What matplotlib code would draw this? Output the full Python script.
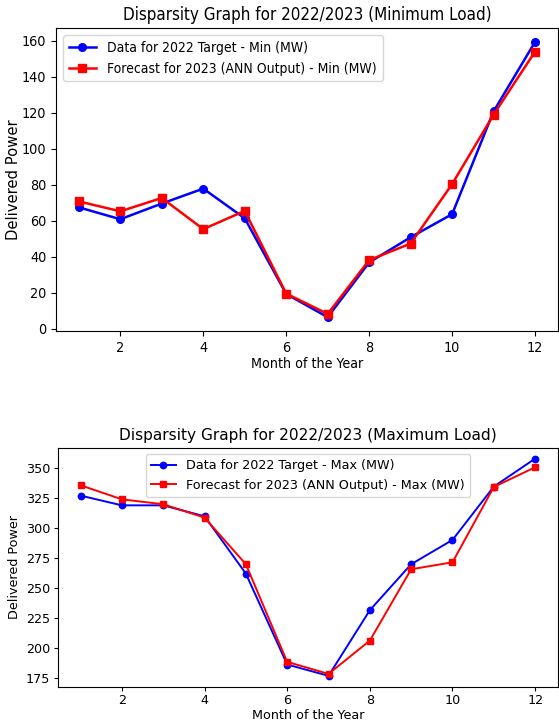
import matplotlib
matplotlib.use("Agg")
import matplotlib.pyplot as plt

months = [1, 2, 3, 4, 5, 6, 7, 8, 9, 10, 11, 12]

target_min_2022 = [67.5, 60.9, 69.6, 77.9, 61.4, 19.4, 6.5, 36.9, 50.9, 63.7, 120.8, 159.4]
forecast_min_2023 = [70.8, 65.3, 72.7, 55.4, 65.5, 19.6, 8.3, 38.2, 47.4, 80.4, 119.0, 154.0]

target_max_2022 = [327.0, 318.9, 318.9, 309.8, 262.1, 186.4, 177.0, 231.6, 269.9, 290.1, 334.5, 357.8]
forecast_max_2023 = [335.6, 323.9, 319.8, 308.7, 269.9, 188.6, 178.6, 206.3, 265.7, 271.5, 334.2, 350.6]

fig = plt.figure(figsize=(5.59, 7.21), dpi=100)

# Minimum load panel (condensed lettering)
cond = dict(family="DejaVu Sans", stretch="condensed")
ax1 = fig.add_axes([0.1002, 0.541, 0.8978, 0.420])
ax1.plot(months, target_min_2022, color="blue", marker="o", markersize=5.5,
         linewidth=1.8, label="Data for 2022 Target - Min (MW)")
ax1.plot(months, forecast_min_2023, color="red", marker="s", markersize=5.5,
         linewidth=1.8, label="Forecast for 2023 (ANN Output) - Min (MW)")
ax1.set_title("Disparsity Graph for 2022/2023 (Minimum Load)", fontsize=12.2, pad=6, **cond)
ax1.set_xlabel("Month of the Year", fontsize=10.2, labelpad=2, **cond)
ax1.set_ylabel("Delivered Power", fontsize=10.6)
ax1.yaxis.set_label_coords(-0.070, 0.5)
ax1.set_xticks([2, 4, 6, 8, 10, 12])
ax1.set_yticks([0, 20, 40, 60, 80, 100, 120, 140, 160])
for lbl in ax1.get_xticklabels() + ax1.get_yticklabels():
    lbl.set_fontsize(10.3)
    lbl.set_fontstretch("condensed")
ax1.legend(loc="upper left", prop=dict(size=10, family="DejaVu Sans", stretch="condensed"))

# Maximum load panel
ax2 = fig.add_axes([0.1034, 0.0476, 0.8946, 0.3314])
ax2.plot(months, target_max_2022, color="blue", marker="o", markersize=4.6,
         linewidth=1.4, label="Data for 2022 Target - Max (MW)")
ax2.plot(months, forecast_max_2023, color="red", marker="s", markersize=4.6,
         linewidth=1.4, label="Forecast for 2023 (ANN Output) - Max (MW)")
ax2.set_title("Disparsity Graph for 2022/2023 (Maximum Load)", fontsize=11.1, pad=5.5)
ax2.set_xlabel("Month of the Year", fontsize=9.2, labelpad=1)
ax2.set_ylabel("Delivered Power", fontsize=9.2, labelpad=3.5)
ax2.set_xticks([2, 4, 6, 8, 10, 12])
ax2.set_yticks([175, 200, 225, 250, 275, 300, 325, 350])
ax2.tick_params(labelsize=9.2, length=3.0, pad=2.4)
ax2.legend(loc="upper center", fontsize=9.2)

fig.savefig("out.png", dpi=100)
